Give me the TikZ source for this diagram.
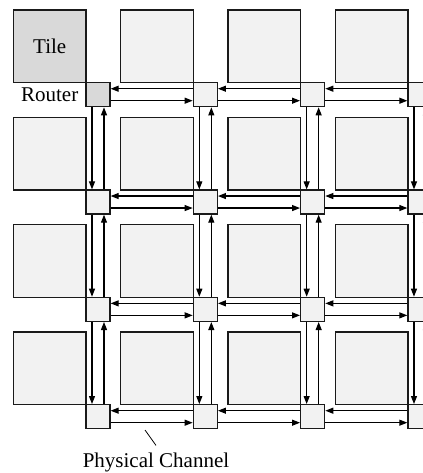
\documentclass[tikz,border=0pt]{standalone}
\usepackage{fontspec}
\setmainfont{Liberation Serif}
\usepackage{tikz}
\usetikzlibrary{arrows.meta, positioning}
\definecolor{tilefill}{HTML}{F2F2F2}
\definecolor{hilite}{HTML}{D9D9D9}
\definecolor{darkgray}{HTML}{1A1A1A}

\begin{document}
\begin{tikzpicture}[
    x=0.5pt, y=-0.5pt,
    every node/.style={font=\fontsize{10.5}{12}\selectfont},
    tile/.style={rectangle, draw=darkgray, line width=0.65pt, minimum size=36.3pt, inner sep=0pt},
    router/.style={rectangle, draw=darkgray, line width=0.65pt, minimum size=12pt, inner sep=0pt},
    link/.style={line width=0.55pt, -{Triangle[length=4pt, width=3pt]}},
    lead/.style={line width=0.4pt}
]
\useasboundingbox (0,0) rectangle (423,473);
\clip (0,0) rectangle (423,473);

% Tiles and routers
\foreach \i in {0,...,3} {
  \foreach \j in {0,...,3} {
    \ifnum\i\j=00 \def\boxfill{hilite}\else\def\boxfill{tilefill}\fi
    \node[tile, fill=\boxfill] (tile-\i-\j) at ({49.7+107.33*\i}, {46.3+107.33*\j}) {};
    \node[router, fill=\boxfill] (rt-\i-\j) at ({98+107.33*\i}, {94.7+107.33*\j}) {};
  }
}

% Channels
\foreach \i [count=\k from 1] in {0,1,2} {
  \foreach \j in {0,...,3} {
    \draw[link] ([yshift=3pt]rt-\k-\j.west) -- ([yshift=3pt]rt-\i-\j.east);
    \draw[link] ([yshift=-3pt]rt-\i-\j.east) -- ([yshift=-3pt]rt-\k-\j.west);
    \draw[link] ([xshift=-3pt]rt-\j-\i.south) -- ([xshift=-3pt]rt-\j-\k.north);
    \draw[link] ([xshift=3pt]rt-\j-\k.north) -- ([xshift=3pt]rt-\j-\i.south);
  }
}

\node (tilelbl) at (tile-0-0) {Tile};
\node[left=0pt of rt-0-0] (routerlbl) {Router};

\coordinate (chan) at (145,430);
\node (chanlbl) at (156,462) {Physical Channel};
\draw[lead] (chan) -- (chanlbl.north);

\end{tikzpicture}
\end{document}
